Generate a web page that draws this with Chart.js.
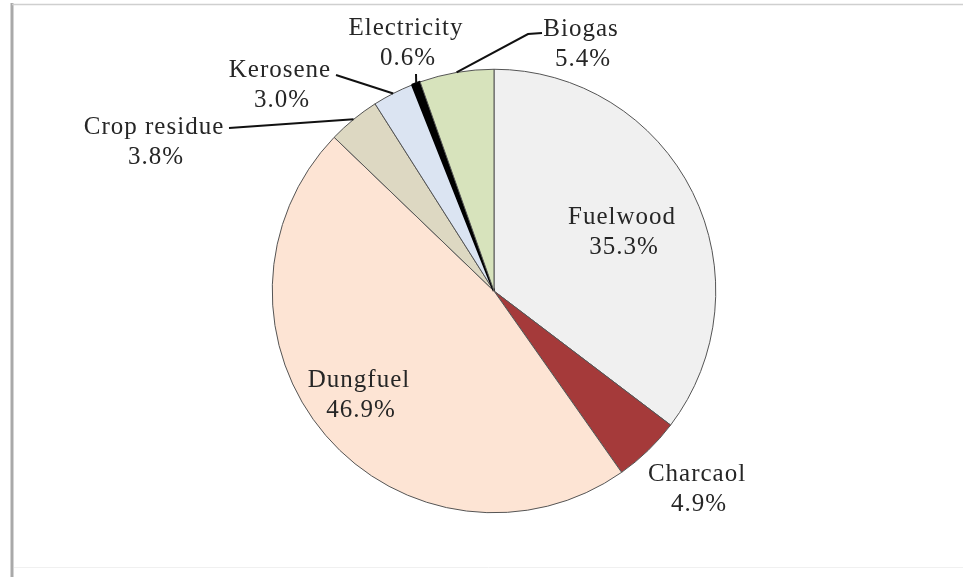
<!DOCTYPE html>
<html>
<head>
<meta charset="utf-8">
<script src="https://cdn.jsdelivr.net/npm/chart.js@4"></script>
<style>
  html, body { margin: 0; padding: 0; background: #fff; }
  #wrap { position: relative; width: 963px; height: 577px; }
</style>
</head>
<body>
<div id="wrap"><canvas id="fuelChart" width="963" height="577"></canvas></div>
<script>
// Household cooking fuel shares (%), clockwise from 12 o'clock
const fuelLabels = ['Fuelwood', 'Charcaol', 'Dungfuel', 'Crop residue', 'Kerosene', 'Electricity', 'Biogas'];
const fuelShares = [35.3, 4.9, 46.9, 3.8, 3.0, 0.6, 5.4];
const fuelColors = ['#f0f0f0', '#a53a3a', '#fde4d4', '#ddd8c2', '#dbe4f2', '#000000', '#d7e3bc'];

// Where each label sits (centre x, first line y); thin slices get a leader line
const labelSpots = {
  'Fuelwood':     { x: 622, y: 217 },
  'Charcaol':     { x: 697, y: 474 },
  'Dungfuel':     { x: 359, y: 380 },
  'Crop residue': { x: 154, y: 127, anchor: [229, 128] },
  'Kerosene':     { x: 280, y: 70,  anchor: [336, 75] },
  'Electricity':  { x: 406, y: 28,  anchor: [416, 74] },
  'Biogas':       { x: 581, y: 29,  anchor: [542, 33], elbow: [528, 34] }
};

function initChart() {
  const canvas = document.getElementById('fuelChart');
  const ctx = canvas.getContext('2d');

  // grey frame around the figure, like the pasted picture
  const framePlugin = {
    id: 'frame',
    beforeDraw(chart) {
      const c = chart.ctx;
      c.save();
      c.fillStyle = '#fff';
      c.fillRect(0, 0, chart.width, chart.height);
      c.strokeStyle = '#a9a9a9';
      c.lineWidth = 3;
      c.beginPath(); c.moveTo(12, 3); c.lineTo(12, 577); c.stroke();
      c.strokeStyle = '#cfcfcf';
      c.lineWidth = 1.5;
      c.beginPath(); c.moveTo(12, 4.5); c.lineTo(963, 4.5); c.stroke();
      c.strokeStyle = '#f0f0f0';
      c.lineWidth = 1;
      c.beginPath(); c.moveTo(14, 567.5); c.lineTo(963, 567.5); c.stroke();
      c.restore();
    }
  };

  // category + percent labels, with leader lines for the thin slices
  const labelPlugin = {
    id: 'sliceLabels',
    afterDatasetsDraw(chart) {
      const c = chart.ctx;
      const meta = chart.getDatasetMeta(0);
      c.save();
      c.font = '25px "Liberation Serif", "Times New Roman", serif';
      c.letterSpacing = '1px';
      c.fillStyle = '#262626';
      c.textAlign = 'center';
      c.textBaseline = 'middle';
      meta.data.forEach((arc, i) => {
        const name = fuelLabels[i];
        const spot = labelSpots[name];
        if (!spot) return;
        if (spot.anchor) {
          const mid = (arc.startAngle + arc.endAngle) / 2;
          const ex = arc.x + Math.cos(mid) * arc.outerRadius;
          const ey = arc.y + Math.sin(mid) * arc.outerRadius;
          c.strokeStyle = '#111';
          c.lineWidth = 2;
          c.beginPath();
          c.moveTo(spot.anchor[0], spot.anchor[1]);
          if (spot.elbow) c.lineTo(spot.elbow[0], spot.elbow[1]);
          c.lineTo(ex, ey);
          c.stroke();
        }
        c.fillText(name, spot.x, spot.y);
        c.fillText(fuelShares[i].toFixed(1) + '%', spot.x + 2, spot.y + 30);
      });
      c.restore();
    }
  };

  new Chart(ctx, {
    type: 'pie',
    data: {
      labels: fuelLabels,
      datasets: [{
        data: fuelShares,
        backgroundColor: fuelColors,
        borderColor: fuelLabels.map(n => n === 'Electricity' ? '#000' : '#555'),
        borderWidth: fuelLabels.map(n => n === 'Electricity' ? 2.5 : 1),
        hoverOffset: 0
      }]
    },
    options: {
      responsive: false,
      animation: false,
      layout: { padding: { left: 271, right: 246, top: 68, bottom: 63 } },
      plugins: {
        legend: { display: false },
        tooltip: { enabled: false }
      }
    },
    plugins: [framePlugin, labelPlugin]
  });
}

if (document.readyState === 'loading') {
  document.addEventListener('DOMContentLoaded', initChart);
} else {
  initChart();
}
</script>
</body>
</html>
